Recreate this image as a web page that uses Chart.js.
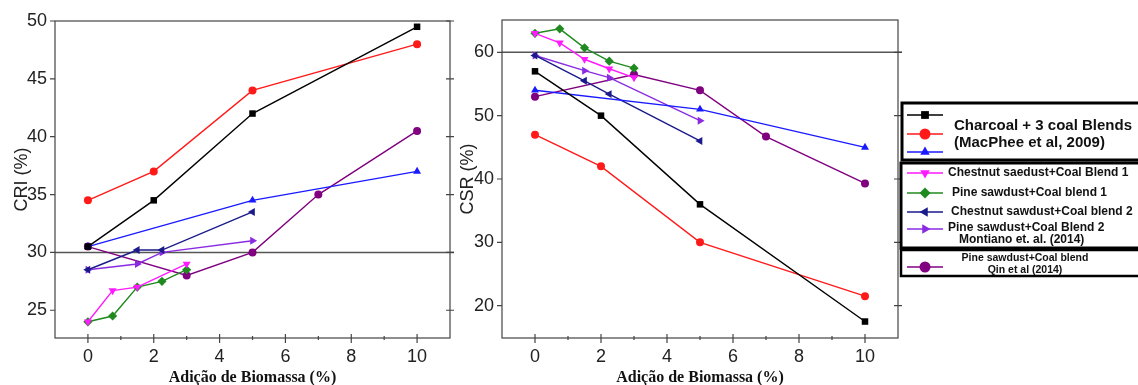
<!DOCTYPE html>
<html>
<head>
<meta charset="utf-8">
<script src="https://cdn.jsdelivr.net/npm/chart.js@4"></script>
<style>
  body { margin: 0; background: #fff; }
  #wrap { position: relative; width: 1138px; height: 385px; overflow: hidden; }
  canvas { position: absolute; top: 0; }
  #cri { left: 0; }
  #csr { left: 455px; }
</style>
</head>
<body>
<div id="wrap">
  <canvas id="cri" width="460" height="385"></canvas>
  <canvas id="csr" width="683" height="385"></canvas>
</div>
<script>
// biomass addition (%) for each series
const xMacPhee = [0, 2, 5, 10];
const xMacPheeBlue = [0, 5, 10];
const xMontiano5 = [0, 0.75, 1.5, 2.25, 3];
const xMontianoPink = [0, 0.75, 1.5, 3];
const xMontiano4 = [0, 1.5, 2.25, 5];
const xQin = [0, 3, 5, 7, 10];

// CRI (%) - left chart
const criBlack = [30.5, 34.5, 42, 49.5];
const criRed = [34.5, 37, 44, 48];
const criBlue = [30.5, 34.5, 37];
const criMagenta = [24, 26.7, 27, 29];
const criGreen = [24, 24.5, 27, 27.5, 28.5];
const criNavy = [28.5, 30.2, 30.2, 33.5];
const criViolet = [28.5, 29, 30, 31];
const criPurple = [30.5, 28, 30, 35, 40.5];

// CSR (%) - right chart
const csrBlack = [57, 50, 36, 17.5];
const csrRed = [47, 42, 30, 21.5];
const csrBlue = [54, 51, 45];
const csrMagenta = [63, 61.5, 58.9, 57.4, 56];
const csrGreen = [63, 63.7, 60.7, 58.6, 57.5];
const csrNavy = [59.5, 55.5, 53.4, 46];
const csrViolet = [59.5, 57.1, 56, 49.2];
const csrPurple = [53, 56.5, 54, 46.7, 39.3];

const xTitle = 'Adição de Biomassa (%)';
const legendTexts = [
  'Charcoal + 3 coal Blends', '(MacPhee et al, 2009)',
  'Chestnut saedust+Coal Blend 1', 'Pine sawdust+Coal blend 1',
  'Chestnut sawdust+Coal blend 2', 'Pine sawdust+Coal Blend 2',
  'Montiano et. al. (2014)', 'Pine sawdust+Coal blend', 'Qin et al (2014)'
];

const tickFont = { family: 'Liberation Sans, Arial, sans-serif', size: 18 };

function series(label, xs, ys, color, style, rot) {
  return {
    label: label,
    data: xs.map((x, i) => ({ x: x, y: ys[i] })),
    borderColor: color,
    backgroundColor: color,
    pointStyle: style,
    rotation: rot || 0,
    pointRadius: style === 'circle' ? 4 : 4.6,
    pointBorderWidth: 0,
    borderWidth: 1.4,
    tension: 0
  };
}

function buildSets(b, r, bl, m, g, n, v, p) {
  return [
    series('Charcoal A', xMacPhee, b, '#000000', 'rect'),
    series('Charcoal B', xMacPhee, r, '#ff1a1a', 'circle'),
    series('Charcoal C', xMacPheeBlue, bl, '#1a1aff', 'triangle'),
    series('Chestnut 1', m.length === 4 ? xMontianoPink : xMontiano5, m, '#ff1aff', 'triangle', 180),
    series('Pine 1', xMontiano5, g, '#1f8a1f', 'rectRot'),
    series('Chestnut 2', xMontiano4, n, '#1a1a8a', 'triangle', 270),
    series('Pine 2', xMontiano4, v, '#8a2be2', 'triangle', 90),
    series('Qin', xQin, p, '#800080', 'circle')
  ];
}

// frame, mirrored ticks and the grey reference line
const framePlugin = {
  id: 'frame',
  beforeDatasetsDraw(chart, args, opts) {
    const ctx = chart.ctx;
    const a = chart.chartArea;
    const x = chart.scales.x, y = chart.scales.y;
    ctx.save();
    const yl = y.getPixelForValue(opts.refLine);
    ctx.strokeStyle = '#555';
    ctx.lineWidth = 1.5;
    ctx.beginPath();
    ctx.moveTo(a.left, yl);
    ctx.lineTo(a.right + 4, yl);
    ctx.stroke();

    ctx.strokeStyle = '#444';
    ctx.lineWidth = 1.2;
    ctx.strokeRect(a.left, a.top, a.right - a.left, a.bottom - a.top);
    ctx.beginPath();
    y.ticks.forEach(t => {
      const py = y.getPixelForValue(t.value);
      ctx.moveTo(a.left - 5, py); ctx.lineTo(a.left, py);
      ctx.moveTo(a.right - 4, py); ctx.lineTo(a.right + 4, py);
    });
    x.ticks.forEach(t => {
      if (t.value <= -1 || t.value >= 11) return;
      const px = x.getPixelForValue(t.value);
      const major = t.value % 2 === 0;
      ctx.moveTo(px, a.bottom - (major ? 4 : 2));
      ctx.lineTo(px, a.bottom + (major ? 5 : 2));
    });
    ctx.stroke();
    ctx.restore();
  }
};

// grouped legend boxes to the right of the CSR chart
const legendPlugin = {
  id: 'groupLegend',
  afterDraw(chart) {
    const ctx = chart.ctx;
    const ox = 455;
    const sets = chart.data.datasets;
    ctx.save();
    ctx.strokeStyle = '#000';
    ctx.lineWidth = 3;
    ctx.strokeRect(902 - ox, 103, 300, 57);
    ctx.strokeRect(901 - ox, 163, 300, 85);
    ctx.lineWidth = 2.5;
    ctx.strokeRect(901 - ox, 250, 300, 26);

    const rows = [115, 134, 152, 173, 193, 212, 229, 267];
    rows.forEach((ry, i) => {
      const ds = sets[i];
      ctx.strokeStyle = ds.borderColor;
      ctx.fillStyle = ds.borderColor;
      ctx.lineWidth = 1.5;
      ctx.beginPath();
      ctx.moveTo(907 - ox, ry);
      ctx.lineTo(943 - ox, ry);
      ctx.stroke();
      Chart.helpers.drawPoint(ctx, {
        pointStyle: ds.pointStyle, rotation: ds.rotation,
        radius: 5.5, borderWidth: 0
      }, 925 - ox, ry);
    });

    ctx.fillStyle = '#111';
    ctx.textBaseline = 'middle';
    ctx.textAlign = 'left';
    ctx.font = 'bold 15px "Liberation Sans", Arial, sans-serif';
    ctx.fillText(legendTexts[0], 954 - ox, 126);
    ctx.fillText(legendTexts[1], 954 - ox, 143);
    ctx.font = 'bold 12px "Liberation Sans", Arial, sans-serif';
    ctx.fillText(legendTexts[2], 948 - ox, 173);
    ctx.fillText(legendTexts[3], 952 - ox, 193);
    ctx.fillText(legendTexts[4], 951 - ox, 212);
    ctx.fillText(legendTexts[5], 948 - ox, 228);
    ctx.fillText(legendTexts[6], 959 - ox, 240);
    ctx.font = 'bold 10.5px "Liberation Sans", Arial, sans-serif';
    ctx.textAlign = 'center';
    ctx.fillText(legendTexts[7], 1025 - ox, 258);
    ctx.fillText(legendTexts[8], 1025 - ox, 270);
    ctx.restore();
  }
};

function makeOptions(cfg) {
  return {
    responsive: false,
    animation: false,
    devicePixelRatio: 1,
    layout: { padding: { top: cfg.top, right: cfg.right, left: 0, bottom: 0 } },
    plugins: {
      legend: { display: false },
      tooltip: { enabled: false },
      frame: { refLine: cfg.refLine }
    },
    scales: {
      x: {
        type: 'linear', min: -1, max: 11,
        grid: { display: false, drawTicks: false },
        border: { display: false },
        ticks: {
          stepSize: 1, padding: 8, autoSkip: false, maxRotation: 0,
          font: tickFont, color: '#222',
          callback: v => (v % 2 === 0 && v >= 0 && v <= 10) ? v : ''
        },
        title: {
          display: true, text: xTitle, color: '#111',
          font: { family: 'Liberation Serif, Times New Roman, serif', size: 16, weight: 'bold' },
          padding: { top: 0, bottom: -2 }
        },
        afterFit: s => { s.height = 47; }
      },
      y: {
        min: cfg.yMin, max: cfg.yMax,
        grid: { display: false, drawTicks: false },
        border: { display: false },
        ticks: { stepSize: cfg.step, padding: 8, includeBounds: false, font: tickFont, color: '#222' },
        title: {
          display: true, text: cfg.yTitle, color: '#222',
          font: tickFont, padding: { top: cfg.titlePad, bottom: 0 }
        },
        afterFit: s => { s.width = cfg.yWidth; }
      }
    }
  };
}

new Chart(document.getElementById('cri'), {
  type: 'line',
  data: { datasets: buildSets(criBlack, criRed, criBlue, criMagenta, criGreen, criNavy, criViolet, criPurple) },
  options: makeOptions({ top: 21, right: 10, yMin: 22.6, yMax: 50, step: 5, yTitle: 'CRI (%)',
    refLine: 30, yWidth: 55, titlePad: 11 }),
  plugins: [framePlugin]
});

new Chart(document.getElementById('csr'), {
  type: 'line',
  data: { datasets: buildSets(csrBlack, csrRed, csrBlue, csrMagenta, csrGreen, csrNavy, csrViolet, csrPurple) },
  options: makeOptions({ top: 20, right: 240, yMin: 14.9, yMax: 65.1, step: 10, yTitle: 'CSR (%)',
    refLine: 60, yWidth: 47, titlePad: 2 }),
  plugins: [framePlugin, legendPlugin]
});
</script>
</body>
</html>
